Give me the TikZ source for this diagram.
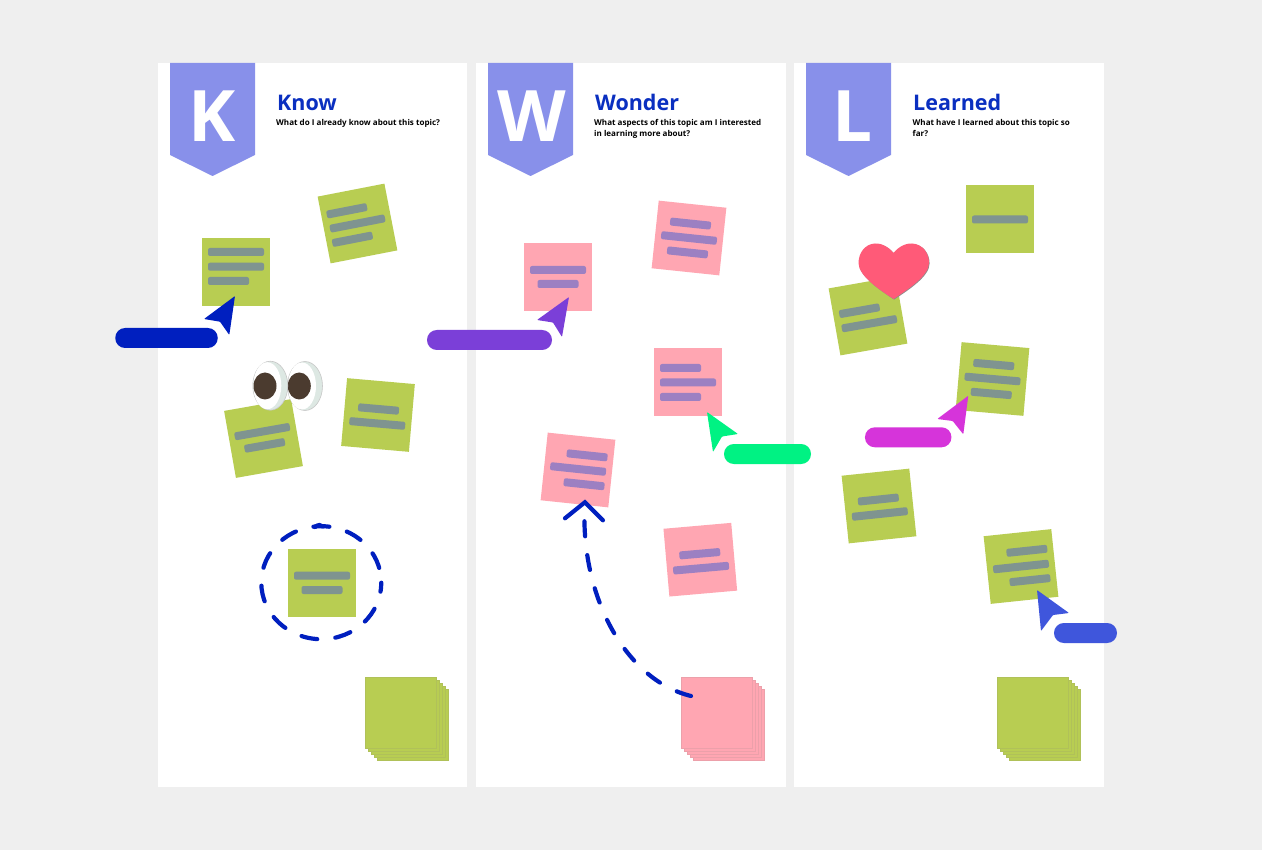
\documentclass[tikz,border=0pt]{standalone}
\usepackage{fontspec}
\setmainfont{Open Sans}
\usetikzlibrary{arrows.meta}

\definecolor{boardgrey}{HTML}{EFEFEF}
\definecolor{ribbonblue}{HTML}{8890EA}
\definecolor{titleblue}{HTML}{0A2FC0}
\definecolor{notegreen}{HTML}{B8CD52}
\definecolor{notepink}{HTML}{FFA6B2}
\definecolor{bargreen}{HTML}{7F9490}
\definecolor{barpink}{HTML}{9C80C2}
\definecolor{inkblue}{HTML}{001FBF}
\definecolor{cursorpurple}{HTML}{7B3FD8}
\definecolor{cursorgreen}{HTML}{00F283}
\definecolor{cursormagenta}{HTML}{D634DA}
\definecolor{cursorroyal}{HTML}{3F56DC}
\definecolor{heartred}{HTML}{FF5A78}
\definecolor{pupilbrown}{HTML}{4B3B2F}
\definecolor{eyeshade}{HTML}{DDE8E3}

\tikzset{
  panel/.style={fill=white},
  ribbon/.style={fill=ribbonblue},
  ribbonletter/.style={anchor=base, text=white, font=\fontsize{71}{71}\selectfont\bfseries, inner sep=0pt},
  coltitle/.style={anchor=base west, text=titleblue, font=\fontsize{21.5}{24}\selectfont\bfseries, inner sep=0pt},
  colquestion/.style={anchor=base west, align=left, text=black, font=\fontsize{8.05}{10.4}\selectfont\bfseries, inner sep=0pt},
  greennote/.style={fill=notegreen, minimum size=68pt, inner sep=0pt, transform shape},
  pinknote/.style={fill=notepink, minimum size=68pt, inner sep=0pt, transform shape},
  greensheet/.style={fill=notegreen, draw=notegreen!85!gray, line width=0.5pt, minimum size=70.5pt, inner sep=0pt},
  pinksheet/.style={fill=notepink, draw=notepink!85!gray, line width=0.5pt, minimum size=70.5pt, inner sep=0pt},
  greenbar/.style={fill=bargreen, rounded corners=2pt},
  pinkbar/.style={fill=barpink, rounded corners=2pt},
  pill/.style={minimum height=20pt, inner sep=0pt, rounded corners=9.9pt},
  cursorhead/.style={rounded corners=0.8pt},
  inkdash/.style={draw=inkblue, line width=4.2pt, line cap=round, dash pattern=on 15pt off 19pt},
  eyeball/.style={fill=eyeshade, draw=black!22, line width=0.6pt}
}

\newcommand{\notebars}[2]{%
  \foreach \bx/\by/\bw in {#2}
    \fill[#1] ({\bx-\bw/2},{\by-4}) rectangle ({\bx+\bw/2},{\by+4});
}

\begin{document}
\begin{tikzpicture}[x=1pt,y=-1pt]
    \fill[boardgrey] (0,0) rectangle (1262,850);
    \useasboundingbox (0,0) rectangle (1262,850);

    % Spalten
    \fill[panel] (158,63) rectangle (467,787);
    \fill[panel] (476,63) rectangle (786,787);
    \fill[panel] (794,63) rectangle (1104,787);

    % Banner
    \fill[ribbon] (170,63) -- (255,63) -- (255,155) -- (212.5,176) -- (170,155) -- cycle;
    \fill[ribbon] (488,63) -- (573,63) -- (573,155) -- (530.5,176) -- (488,155) -- cycle;
    \fill[ribbon] (806,63) -- (891,63) -- (891,155) -- (848.5,176) -- (806,155) -- cycle;
    \node[ribbonletter] (kletter) at (212.5,141.7) {K};
    \node[ribbonletter] (wletter) at (531.5,141.7) {W};
    \node[ribbonletter] (lletter) at (852.5,141.7) {L};

    % Titel
    \node[coltitle] (knowtitle) at (277,111) {Know};
    \node[colquestion] (knowtext) at (276,126) {What do I already know about this topic?};
    \node[coltitle] (wondertitle) at (595,111) {Wonder};
    \node[colquestion] (wondertext) at (594,136.4) {What aspects of this topic am I interested\\in learning more about?};
    \node[coltitle] (learnedtitle) at (913,111) {Learned};
    \node[colquestion] (learnedtext) at (912.5,136.4) {What have I learned about this topic so\\far?};

    % Know
    \node[greennote] (knowa) at (236,272) {};
    \begin{scope}[shift={(236,272)}]
        \notebars{greenbar}{0/-20/56, 0/-5.3/56, -7.5/9/41}
    \end{scope}
    \begin{scope}[shift={(357.5,223.5)},rotate=11]
        \node[greennote] (knowb) at (0,0) {};
        \notebars{greenbar}{-8/-14.5/41, 0/0/56, -8/14.5/41}
    \end{scope}
    \begin{scope}[shift={(263.5,438.5)},rotate=10]
        \node[greennote] (knowc) at (0,0) {};
        \notebars{greenbar}{0/-7/56, 0/7/41}
    \end{scope}
    \begin{scope}[shift={(378,415)},rotate=-5]
        \node[greennote] (knowd) at (0,0) {};
        \notebars{greenbar}{0/-6/41, 0/8.5/56}
    \end{scope}
    \node[greennote] (knowe) at (322,583) {};
    \begin{scope}[shift={(322,583)}]
        \notebars{greenbar}{0/-7.3/56, 0/7/41}
    \end{scope}

    % Kreis um die Notiz
    \draw[inkdash, dash pattern=on 16pt off 18.2pt, dash phase=7pt] (321.3,582.7) ellipse [x radius=60, y radius=56.5];
    \draw[draw=inkblue, line width=4.2pt, line cap=round] (315,527) .. controls (318,524.5) and (321,524.5) .. (323,526.5);

    % Stapel
    \foreach \s in {4,3,2,1,0}
        \node[greensheet] (knowstack\s) at ({400.5+3.07*\s},{712.8+3*\s}) {};
    \foreach \s in {4,3,2,1,0}
        \node[pinksheet] (wonderstack\s) at ({716.5+3.07*\s},{712.8+3*\s}) {};
    \foreach \s in {4,3,2,1,0}
        \node[greensheet] (learnedstack\s) at ({1032.5+3.07*\s},{712.8+3*\s}) {};

    % Wonder
    \node[pinknote] (wondera) at (558,277) {};
    \begin{scope}[shift={(558,277)}]
        \notebars{pinkbar}{0/-7/56, 0/7/41}
    \end{scope}
    \begin{scope}[shift={(689,238)},rotate=-6]
        \node[pinknote] (wonderb) at (0,0) {};
        \notebars{pinkbar}{0/-14.5/41, 0/0/56, 0/14.5/41}
    \end{scope}
    \node[pinknote] (wonderc) at (688,382.5) {};
    \begin{scope}[shift={(688,382.5)}]
        \notebars{pinkbar}{-7.5/-14.5/41, 0/0/56, -7.5/14.5/41}
    \end{scope}
    \begin{scope}[shift={(578,470)},rotate=-6]
        \node[pinknote] (wonderd) at (0,0) {};
        \notebars{pinkbar}{7.5/-15.5/41, 0/-1/56, 7.5/13.5/41}
    \end{scope}
    \begin{scope}[shift={(700.3,559.7)},rotate=5]
        \node[pinknote] (wondere) at (0,0) {};
        \notebars{pinkbar}{0/-6/41, 0/8.5/56}
    \end{scope}

    % gestrichelter Pfeil
    \coordinate (curvefrom) at (691,696);
    \coordinate (curveto) at (585,499.5);
    \draw[inkdash, -{Straight Barb[length=17pt,width=38pt,line cap=round]}] (curvefrom) .. controls (625,680) and (580,595) .. (curveto);

    % Learned
    \node[greennote] (learneda) at (1000,219.5) {};
    \begin{scope}[shift={(1000,219.5)}]
        \notebars{greenbar}{0/0/56}
    \end{scope}
    \begin{scope}[shift={(868,316)},rotate=10]
        \node[greennote] (learnedb) at (0,0) {};
        \notebars{greenbar}{-7.5/-6.7/41, 0/7.8/56}
    \end{scope}
    \begin{scope}[shift={(992.5,379)},rotate=-5]
        \node[greennote] (learnedc) at (0,0) {};
        \notebars{greenbar}{0/-14.5/41, 0/0/56, 0/14.5/41}
    \end{scope}
    \begin{scope}[shift={(879,506)},rotate=6]
        \node[greennote] (learnedd) at (0,0) {};
        \notebars{greenbar}{0/-6.5/41, 0/8/56}
    \end{scope}
    \begin{scope}[shift={(1021,566.5)},rotate=6]
        \node[greennote] (learnede) at (0,0) {};
        \notebars{greenbar}{7.5/-15/41, 0/0/56, 7.5/14.5/41}
    \end{scope}

    % Herz
    \fill[black!45] (894.1,253.6) .. controls (888.6,246.6) and (880.6,243.6) .. (875.6,244.1) .. controls (865.6,244.6) and (859.1,253.6) .. (859.1,263.6) .. controls (859.1,276.6) and (880.6,290.6) .. (894.1,299.6) .. controls (907.6,290.6) and (929.6,276.6) .. (929.6,263.6) .. controls (929.6,253.6) and (923.1,244.6) .. (912.6,244.1) .. controls (907.6,243.6) and (899.6,246.6) .. (894.1,253.6) -- cycle;
    \fill[heartred] (893.5,253) .. controls (888,246) and (880,243) .. (875,243.5) .. controls (865,244) and (858.5,253) .. (858.5,263) .. controls (858.5,276) and (880,290) .. (893.5,299) .. controls (907,290) and (929,276) .. (929,263) .. controls (929,253) and (922.5,244) .. (912,243.5) .. controls (907,243) and (899,246) .. (893.5,253) -- cycle;

    % Augen
    \draw[eyeball] (305,386) ellipse [x radius=17.5, y radius=24.5];
    \fill[white] (302,386) ellipse [x radius=14, y radius=23.5];
    \fill[pupilbrown] (299.3,386) ellipse [x radius=11.5, y radius=13.5];
    \draw[eyeball] (270.3,385.7) ellipse [x radius=17.5, y radius=24.5];
    \fill[white] (267.3,385.7) ellipse [x radius=14, y radius=23.5];
    \fill[pupilbrown] (265,386) ellipse [x radius=11.5, y radius=13.5];

    % Cursor
    \node[pill, fill=inkblue, minimum width=102.5pt] (bluepill) at (166.5,338) {};
    \fill[inkblue, cursorhead] (235,296) -- (204,319) -- (220,321.7) -- (229.3,335) -- cycle;
    \node[pill, fill=cursorpurple, minimum width=125pt] (purplepill) at (489.5,340) {};
    \fill[cursorpurple, cursorhead] (569,297) -- (537,320) -- (553,322.5) -- (562,337) -- cycle;
    \node[pill, fill=cursorgreen, minimum width=87pt] (greenpill) at (767.5,454) {};
    \fill[cursorgreen, cursorhead] (707,412) -- (738,434) -- (722,436.5) -- (713,452) -- cycle;
    \node[pill, fill=cursormagenta, minimum width=86.5pt] (magentapill) at (908.2,437.3) {};
    \fill[cursormagenta, cursorhead] (968.3,395.7) -- (937.3,419) -- (952.7,421) -- (963.3,434.3) -- cycle;
    \node[pill, fill=cursorroyal, minimum width=63pt] (royalpill) at (1085.5,633) {};
    \fill[cursorroyal, cursorhead] (1037,590) -- (1069,613) -- (1053,615) -- (1041,631) -- cycle;
\end{tikzpicture}
\end{document}
